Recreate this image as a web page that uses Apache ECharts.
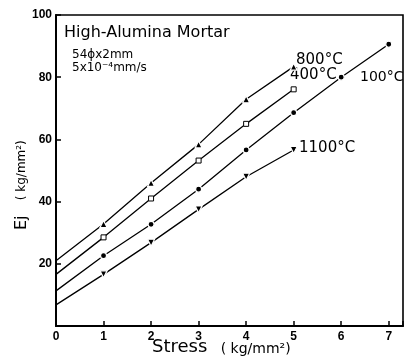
<!DOCTYPE html>
<html>
<head>
<meta charset="utf-8">
<script src="https://cdn.jsdelivr.net/npm/echarts@6/dist/echarts.min.js"></script>
<style>html,body{margin:0;padding:0;background:#fff;}#c{width:409px;height:361px;}</style>
</head>
<body>
<div id="c"></div>
<script>
// Stress (kg/mm^2)
const stress = [0, 1, 2, 3, 4, 5, 6, 7];
// Ej (kg/mm^2) per temperature; the x=0 value is the line's start (no marker)
const e800  = [21.0, 32.8, 46.0, 58.4, 72.9, 83.4];
const e400  = [16.6, 28.5, 41.0, 53.2, 65.0, 76.1];
const e100  = [11.3, 22.6, 32.7, 44.0, 56.6, 68.6, 80.0, 90.6];
const e1100 = [6.8, 16.6, 26.8, 37.5, 48.0, 56.6];
const seriesNames = ['800°C', '400°C', '100°C', '1100°C'];
const yTicks = [20, 40, 60, 80, 100];

function pts(vals) {
  return vals.map((v, i) => i === 0 ? {value: [stress[i], v], symbol: 'none'} : [stress[i], v]);
}

const chart = echarts.init(document.getElementById('c'), null, {renderer: 'canvas'});
const lineStyle = {color: '#000', width: 1.3};
const mk = (name, vals, symbol, size, fill, rot) => ({
  name: name, type: 'line', data: pts(vals),
  symbol: symbol, symbolSize: size, symbolRotate: rot || 0,
  lineStyle: lineStyle,
  itemStyle: {color: fill, borderColor: fill === '#fff' ? '#000' : '#fff', borderWidth: fill === '#fff' ? 1 : 1.2},
  emphasis: {disabled: true}, animation: false, z: 3
});

chart.setOption({
  animation: false,
  backgroundColor: '#fff',
  grid: {left: 56, right: 6, top: 15, bottom: 35, show: true, borderColor: '#000', borderWidth: 1.6},
  xAxis: {
    type: 'value', min: 0, max: 7.3, interval: 1,
    axisLine: {lineStyle: {color: '#000', width: 2}},
    axisTick: {inside: true, length: 5, lineStyle: {color: '#000', width: 1.5}},
    splitLine: {show: false},
    axisLabel: {color: '#000', fontSize: 12, fontWeight: 'bold', fontFamily: 'Liberation Sans', margin: 5,
      formatter: v => Number.isInteger(v) ? String(v) : ''}
  },
  yAxis: {
    type: 'value', min: 0, max: 100, interval: 20,
    axisLine: {lineStyle: {color: '#000', width: 2}},
    axisTick: {inside: true, length: 5, lineStyle: {color: '#000', width: 1.5}},
    splitLine: {show: false},
    axisLabel: {color: '#000', fontSize: 12, fontWeight: 'bold', fontFamily: 'Liberation Sans', margin: 4,
      formatter: v => yTicks.includes(v) ? String(v) : ''}
  },
  series: [
    mk(seriesNames[0], e800, 'triangle', 7, '#000'),
    mk(seriesNames[1], e400, 'rect', 5, '#fff'),
    mk(seriesNames[2], e100, 'circle', 6, '#000'),
    mk(seriesNames[3], e1100, 'triangle', 7, '#000', 180)
  ],
  graphic: [
    {type: 'text', left: 64, top: 25, style: {text: 'High-Alumina Mortar', font: '16px "DejaVu Sans"', fill: '#000'}},
    {type: 'text', left: 72, top: 49, style: {text: '54ϕx2mm', font: '12px "DejaVu Sans"', fill: '#000'}},
    {type: 'text', left: 72, top: 62, style: {text: '5x10⁻⁴mm/s', font: '12px "DejaVu Sans"', fill: '#000'}},
    {type: 'text', left: 296, top: 53, style: {text: seriesNames[0], font: '15px "DejaVu Sans"', fill: '#000'}},
    {type: 'text', left: 290, top: 68, style: {text: seriesNames[1], font: '15px "DejaVu Sans"', fill: '#000'}},
    {type: 'text', left: 360, top: 70, style: {text: seriesNames[2], font: '14px "DejaVu Sans"', fill: '#000'}},
    {type: 'text', left: 299, top: 141, style: {text: seriesNames[3], font: '15px "DejaVu Sans"', fill: '#000'}},
    {type: 'text', left: 152, top: 338, style: {
      text: '{a|Stress}{b|   ( kg/mm²)}',
      rich: {a: {font: '18px "DejaVu Sans"', fill: '#000'}, b: {font: '14px "DejaVu Sans"', fill: '#000', verticalAlign: 'bottom'}}
    }},
    {type: 'text', x: 14, y: 230, rotation: Math.PI / 2, style: {
      text: '{a|Ej}{b|    ( kg/mm²)}',
      rich: {a: {font: '16px "DejaVu Sans"', fill: '#000'}, b: {font: '12px "DejaVu Sans"', fill: '#000'}}
    }}
  ]
});
</script>
</body>
</html>
